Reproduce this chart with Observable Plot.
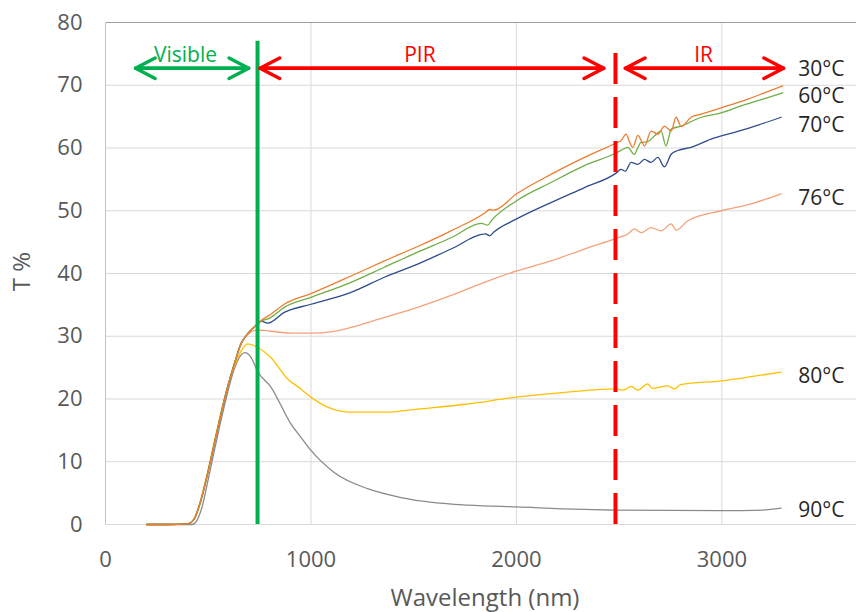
<!DOCTYPE html>
<html><head><meta charset="utf-8">
<script src="https://cdn.jsdelivr.net/npm/d3@7"></script>
<script src="https://cdn.jsdelivr.net/npm/@observablehq/plot@0.6"></script>
<style>body{margin:0;background:#fff;}</style>
</head><body><div id="chart"></div>
<script>
// Series
const seriesNames = ["30°C","60°C","70°C","76°C","80°C","90°C"];
const seriesColors = ["#ED7D31","#70AD47","#2F4B8C","#F3A27A","#FFC000","#8A8A8A"];

const wl30 = [200,300,400,432,464,497,529,562,594,627,659,692,742,757,800,870,1000,1195,1357,1519,1682,1844,1870,1890,2001,2168,2331,2485,2510,2534,2550,2566,2591,2610,2623,2655,2688,2720,2753,2777,2802,2850,2899,2996,3126,3200,3296];
const t30  = [0,0,0.1,0.9,3.8,8.1,12.8,17.6,21.9,25.6,28.8,30.4,32.0,32.5,33.4,35.1,36.8,39.6,42.0,44.3,46.8,49.6,50.2,50.1,52.7,55.8,58.5,60.8,61.2,62.2,61.0,60.1,62.0,61.0,60.3,62.7,62.2,63.5,62.7,64.9,63.4,64.9,65.4,66.4,67.8,68.7,69.9];

const wl60 = [200,300,400,432,464,497,529,562,594,627,659,692,742,757,800,870,1000,1195,1357,1519,1682,1830,1860,1880,2001,2168,2331,2485,2520,2542,2574,2590,2607,2639,2671,2704,2728,2740,2753,2802,2899,2996,3100,3200,3296];
const t60  = [0,0,0.1,0.9,3.8,8.1,12.8,17.6,21.9,25.6,28.8,30.4,32.0,32.4,32.9,34.6,36.2,38.6,41.0,43.4,45.7,48.0,47.7,48.5,51.6,54.5,57.2,59.2,59.8,60.1,59.0,60.0,60.9,61.0,61.9,62.7,60.3,61.5,63.0,63.5,64.9,65.6,66.8,67.8,68.8];

const wl70 = [200,300,400,432,464,497,529,562,594,627,659,692,742,757,790,870,1000,1195,1357,1519,1682,1850,1870,1890,2001,2168,2331,2485,2509,2530,2558,2591,2623,2655,2688,2720,2753,2785,2850,2947,3061,3180,3288];
const t70  = [0,0,0.1,0.9,3.8,8.1,12.8,17.6,21.9,25.6,28.8,30.4,32.0,32.4,32.1,33.8,35.1,37.0,39.4,41.5,43.9,46.3,46.0,46.6,48.7,51.3,53.7,56.0,56.6,56.3,57.7,57.4,58.2,57.7,58.5,57.0,59.0,59.6,60.1,61.4,62.5,63.7,64.9];

const wl76 = [200,300,400,432,464,497,529,562,594,627,659,692,742,805,903,1000,1097,1195,1357,1519,1682,1844,2001,2168,2331,2485,2542,2574,2607,2655,2704,2753,2777,2834,2996,3142,3288];
const t76  = [0,0,0.1,0.9,3.8,8.1,12.8,17.6,21.9,25.6,28.6,30.3,31.0,30.8,30.5,30.5,30.7,31.4,33.0,34.6,36.5,38.6,40.4,42.0,43.9,45.6,46.3,47.1,46.5,47.3,46.8,47.9,46.9,48.4,50.0,51.1,52.7];

const wl80 = [200,300,400,432,464,497,529,562,594,627,659,692,742,805,886,951,1000,1081,1195,1357,1519,1763,2000,2250,2485,2520,2558,2590,2639,2660,2737,2769,2800,3000,3150,3288];
const t80  = [0,0,0.1,1.0,4.0,8.4,13.1,17.9,22.0,25.2,27.6,28.8,28.2,26.6,23.2,21.6,20.3,18.7,17.9,17.9,18.4,19.2,20.3,21.1,21.6,21.4,22.0,21.4,22.4,21.7,22.1,21.6,22.3,22.9,23.6,24.3];

const wl90 = [200,300,420,440,470,500,530,560,594,627,659,680,705,742,805,903,951,1000,1113,1276,1438,1600,1763,2000,2485,3000,3200,3288];
const t90  = [0,0,0,0.4,2.8,7.2,11.8,16.3,21.0,24.8,27.0,27.4,26.8,24.3,21.9,16.0,13.9,11.8,8.3,5.7,4.3,3.5,3.1,2.8,2.3,2.2,2.3,2.6];

// Series end labels (y in T %)
const labelY = [72.6, 68.3, 63.6, 52.0, 23.7, 2.2];

// Ticks
const xTicks = [0, 1000, 2000, 3000];
const yTicks = [0, 10, 20, 30, 40, 50, 60, 70, 80];

// Region annotations
const regionNames = ["Visible", "PIR", "IR"];
const regionColors = ["#00B050", "#FF0000", "#FF0000"];
const regionStart = [146, 752, 2530];
const regionEnd = [697, 2425, 3300];
const regionTextX = [389, 1530, 2911];
const arrowLevel = 72.7;
const textLevel = 74.8;
const visibleBoundary = 740;
const irBoundary = 2482;
const boundaryTop = 77;

const wls = [wl30, wl60, wl70, wl76, wl80, wl90];
const ts = [t30, t60, t70, t76, t80, t90];
const rows = [];
for (let k = seriesNames.length - 1; k >= 0; k--) {
  wls[k].forEach((w, i) => rows.push({s: seriesNames[k], wl: w, t: ts[k][i]}));
}
const labels = seriesNames.map((s, i) => ({s, y: labelY[i]}));
const regions = regionNames.map((n, i) => ({n, c: regionColors[i], a: regionStart[i], b: regionEnd[i], tx: regionTextX[i]}));

const FONT = "Open Sans";
const chart = Plot.plot({
  width: 856,
  height: 612,
  marginLeft: 105,
  marginRight: 0,
  marginTop: 22,
  marginBottom: 88,
  style: {fontFamily: FONT, fontSize: "22px", color: "#595959", background: "#fff", overflow: "visible"},
  x: {domain: [0, 3655]},
  y: {domain: [0, 80]},
  color: {domain: seriesNames, range: seriesColors},
  marks: [
    Plot.gridY(yTicks, {stroke: "#d9d9d9", strokeOpacity: 1}),
    Plot.gridX(xTicks, {stroke: "#d9d9d9", strokeOpacity: 1}),
    Plot.ruleY([80], {stroke: "#a0a0a0", strokeWidth: 1}),
    Plot.ruleX([0], {stroke: "#c4c4c4", strokeWidth: 1}),
    Plot.axisY(yTicks, {tickSize: 0, tickPadding: 23, label: null, fontSize: 22, tickFormat: d => String(d)}),
    Plot.axisX(xTicks, {tickSize: 0, tickPadding: 27, label: null, fontSize: 22, tickFormat: d => String(d)}),
    Plot.line(rows, {x: "wl", y: "t", z: "s", stroke: "s", strokeWidth: 1.3, curve: "monotone-x"}),
    Plot.ruleX([visibleBoundary], {y1: 0, y2: boundaryTop, stroke: "#00B050", strokeWidth: 4}),
    Plot.ruleX([irBoundary], {y1: 0, y2: boundaryTop, stroke: "#FF0000", strokeWidth: 4, strokeDasharray: "31,13"}),
    Plot.arrow(regions, {x1: "a", x2: "b", y1: () => arrowLevel, y2: () => arrowLevel, stroke: "c", strokeWidth: 3.5, headLength: 9.5, headAngle: 55, strokeLinecap: "round", strokeLinejoin: "round"}),
    Plot.arrow(regions, {x1: "b", x2: "a", y1: () => arrowLevel, y2: () => arrowLevel, stroke: "c", strokeWidth: 3.5, headLength: 9.5, headAngle: 55, strokeLinecap: "round", strokeLinejoin: "round"}),
    Plot.text(regions, {x: "tx", y: () => textLevel, text: "n", fill: "c", fontSize: 21, fontFamily: FONT}),
    Plot.text(labels, {x: () => 3372, y: "y", text: "s", textAnchor: "start", fill: "#262626", fontSize: 21, fontFamily: FONT}),
    Plot.text(["Wavelength (nm)"], {x: () => 1847, y: () => -11.8, text: d => d, fill: "#595959", fontSize: 24, fontFamily: FONT}),
    Plot.text(["T %"], {x: () => -404, y: () => 40.3, text: d => d, rotate: -90, fill: "#595959", fontSize: 24, fontFamily: FONT})
  ]
});
document.getElementById("chart").appendChild(chart);
</script>
</body></html>
